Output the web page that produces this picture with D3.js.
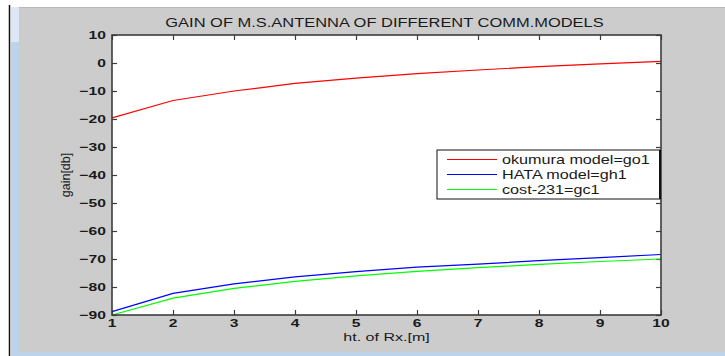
<!DOCTYPE html>
<html>
<head>
<meta charset="utf-8">
<script src="https://cdn.jsdelivr.net/npm/d3@7"></script>
<style>
  body { margin: 0; background: #fff; }
  svg { display: block; font-family: "Liberation Sans", Arial, sans-serif; }
</style>
</head>
<body>
<div id="chart"></div>
<script>
// data
const heights = [1, 2, 3, 4, 5, 6, 7, 8, 9, 10];
const okumura = [-19.6, -13.4, -10, -7.3, -5.4, -3.8, -2.5, -1.3, -0.3, 0.6];
const hata = [-88.8, -82.3, -78.9, -76.4, -74.5, -72.9, -71.8, -70.6, -69.5, -68.4];
const cost231 = [-90, -84, -80.5, -78, -76, -74.4, -73.1, -71.9, -70.9, -70];
const xTicks = [1, 2, 3, 4, 5, 6, 7, 8, 9, 10];
const yTicks = [-90, -80, -70, -60, -50, -40, -30, -20, -10, 0, 10];
const seriesNames = ["okumura model=go1", "HATA model=gh1", "cost-231=gc1"];
const seriesColors = ["#ff0000", "#0000ff", "#00ff00"];

const W = 725, H = 356;
const plot = { left: 112, right: 661, top: 35, bottom: 315 };
const sx = 1.36; // the screenshot is stretched sideways

const svg = d3.select("#chart").append("svg")
  .attr("width", W).attr("height", H);

// window frame bits
svg.append("rect").attr("x", 0).attr("y", 0).attr("width", W).attr("height", H).attr("fill", "#fff");
svg.append("rect").attr("x", 11).attr("y", 7).attr("width", W - 11).attr("height", H - 7).attr("fill", "#bcd3ea");
svg.append("rect").attr("x", 11).attr("y", 7).attr("width", 8).attr("height", 35).attr("fill", "#dce8f5");
svg.append("rect").attr("x", 19).attr("y", 7).attr("width", W - 19).attr("height", 345).attr("fill", "#cccccc");
svg.append("line").attr("x1", 19).attr("x2", W).attr("y1", 7.5).attr("y2", 7.5).attr("stroke", "#b8b8b8");
svg.append("line").attr("x1", 9.5).attr("x2", 9.5).attr("y1", 5).attr("y2", H).attr("stroke", "#111").attr("stroke-width", 1.5);

const x = d3.scaleLinear().domain([1, 10]).range([plot.left, plot.right]);
const y = d3.scaleLinear().domain([-90, 10]).range([plot.bottom, plot.top]);

svg.append("rect")
  .attr("x", plot.left).attr("y", plot.top)
  .attr("width", plot.right - plot.left).attr("height", plot.bottom - plot.top)
  .attr("fill", "#fff");

const axisColor = "#3c3c3c";
function styleAxis(g) {
  g.select(".domain").remove();
  g.selectAll(".tick line").attr("stroke", axisColor).attr("stroke-width", 1.2);
  g.selectAll(".tick text").remove();
}

svg.append("g").attr("transform", `translate(${plot.left},0)`)
  .call(d3.axisLeft(y).tickValues(yTicks).tickSize(-5)).call(styleAxis);
svg.append("g").attr("transform", `translate(${plot.right},0)`)
  .call(d3.axisRight(y).tickValues(yTicks).tickSize(-5)).call(styleAxis);
svg.append("g").attr("transform", `translate(0,${plot.bottom})`)
  .call(d3.axisBottom(x).tickValues(xTicks).tickSize(-5)).call(styleAxis);
svg.append("g").attr("transform", `translate(0,${plot.top})`)
  .call(d3.axisTop(x).tickValues(xTicks).tickSize(-5)).call(styleAxis);

// lines
const line = d3.line().x((d, i) => x(heights[i])).y(d => y(d));
[okumura, hata, cost231].forEach((vals, k) => {
  svg.append("path").datum(vals)
    .attr("fill", "none")
    .attr("stroke", seriesColors[k])
    .attr("stroke-width", 1.2)
    .attr("d", line);
});

// axes box
svg.append("rect")
  .attr("x", plot.left).attr("y", plot.top)
  .attr("width", plot.right - plot.left).attr("height", plot.bottom - plot.top)
  .attr("fill", "none").attr("stroke", axisColor).attr("stroke-width", 1.6);

function stretchedText(px, py, str, opts) {
  return svg.append("text")
    .attr("transform", `translate(${px},${py}) scale(${sx},1)`)
    .attr("text-anchor", opts.anchor || "start")
    .attr("font-size", opts.size || 11.5)
    .attr("font-weight", opts.weight || "normal")
    .attr("fill", "#1a1a1a")
    .text(str);
}

yTicks.forEach(v => stretchedText(106, y(v) + 4, d3.format("d")(v), { anchor: "end", weight: "bold" }));
xTicks.forEach(v => stretchedText(x(v), 327, d3.format("d")(v), { anchor: "middle", weight: "bold" }));

stretchedText((plot.left + plot.right) / 2 - 2, 26.5, "GAIN OF M.S.ANTENNA OF DIFFERENT COMM.MODELS", { anchor: "middle", size: 12.1 });
stretchedText((plot.left + plot.right) / 2, 341, "ht. of Rx.[m]", { anchor: "middle", size: 11.8 });

svg.append("text")
  .attr("transform", `translate(70,${(plot.top + plot.bottom) / 2}) rotate(-90)`)
  .attr("text-anchor", "middle")
  .attr("font-size", 12.5)
  .attr("fill", "#1a1a1a")
  .text("gain[db]");

// legend
const leg = { x: 437, y: 150, w: 223, h: 49 };
svg.append("rect")
  .attr("x", leg.x).attr("y", leg.y).attr("width", leg.w).attr("height", leg.h)
  .attr("fill", "#fff").attr("stroke", "#111").attr("stroke-width", 1);
svg.append("line").attr("x1", leg.x + leg.w).attr("x2", leg.x + leg.w)
  .attr("y1", leg.y).attr("y2", leg.y + leg.h).attr("stroke", "#111").attr("stroke-width", 2);
seriesNames.forEach((name, k) => {
  const cy = leg.y + 9.5 + k * 15;
  svg.append("line")
    .attr("x1", leg.x + 10).attr("x2", leg.x + 60)
    .attr("y1", cy).attr("y2", cy)
    .attr("stroke", seriesColors[k]).attr("stroke-width", 1.2);
  stretchedText(leg.x + 65, cy + 4, name, { size: 11.9 });
});
</script>
</body>
</html>
